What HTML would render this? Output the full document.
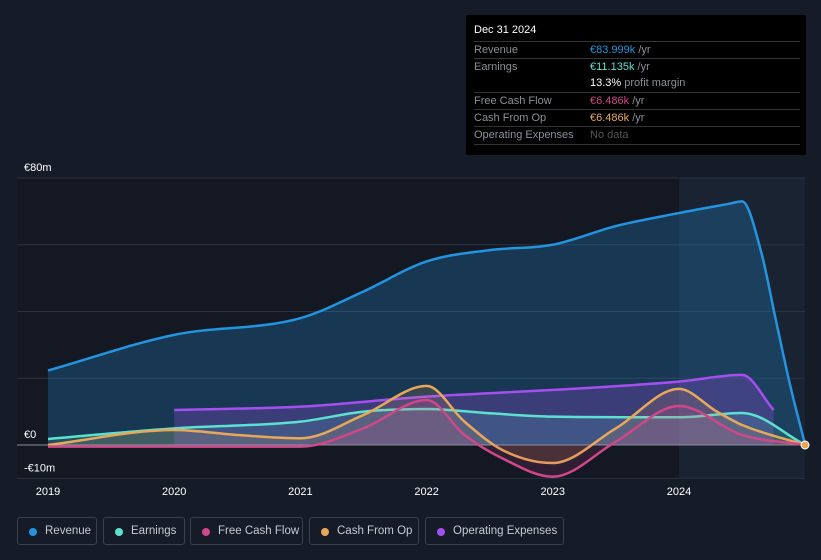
<!DOCTYPE html>
<html><head><meta charset="utf-8"><style>
body{margin:0;background:#151b27;font-family:"Liberation Sans",sans-serif;}
#wrap{position:relative;width:821px;height:560px;overflow:hidden;background:#151b27;}
.tt{position:absolute;left:466px;top:15px;width:340px;height:140px;background:#000;border-radius:2px;color:#8a8f98;font-size:11px;}
.tt .row{position:absolute;left:8px;right:6px;border-top:1px solid #333;height:17px;line-height:17px;}
.tt .v{position:absolute;left:116px;}
.leg{position:absolute;top:517px;height:28px;border:1px solid #3a404c;border-radius:3px;color:#c7cad0;font-size:11.5px;line-height:27px;box-sizing:border-box;padding-left:27px;white-space:nowrap;overflow:hidden;}
.leg i{position:absolute;left:11px;top:10px;width:8px;height:8px;border-radius:50%;}
</style></head><body>
<div id="wrap">
<svg id="chart" width="821" height="560" style="position:absolute;left:0;top:0"></svg>
<div class="tt">
<div style="position:absolute;left:8px;top:9px;color:#fff;font-size:11px">Dec 31 2024</div>
<div class="row" style="top:26px">Revenue<span class="v"><b style="color:#2394df;font-weight:normal">€83.999k</b> /yr</span></div>
<div class="row" style="top:43px">Earnings<span class="v"><b style="color:#5ce1d0;font-weight:normal">€11.135k</b> /yr</span></div>
<div class="row" style="top:60px;border-top:none"><span class="v"><b style="color:#fff;font-weight:normal">13.3%</b> profit margin</span></div>
<div class="row" style="top:77px">Free Cash Flow<span class="v"><b style="color:#d0478a;font-weight:normal">€6.486k</b> /yr</span></div>
<div class="row" style="top:94px">Cash From Op<span class="v"><b style="color:#e8a85a;font-weight:normal">€6.486k</b> /yr</span></div>
<div class="row" style="top:111px">Operating Expenses<span class="v" style="color:#555">No data</span></div>
<div class="row" style="top:129px;height:0"></div>
</div>
<div class="leg" style="left:17px;width:80px"><i style="background:#2394df"></i>Revenue</div>
<div class="leg" style="left:103px;width:82px"><i style="background:#5ce1d0"></i>Earnings</div>
<div class="leg" style="left:190px;width:113px"><i style="background:#d0478a"></i>Free Cash Flow</div>
<div class="leg" style="left:309px;width:110px"><i style="background:#e8a85a"></i>Cash From Op</div>
<div class="leg" style="left:425px;width:139px"><i style="background:#a64ff0"></i>Operating Expenses</div>
</div>
<script>
const yTicks=[80,60,40,20,0,-10];
const yLabels=["€80m","","","","€0","-€10m"];
const xTicks=[2019,2020,2021,2022,2023,2024];
const revX=[2019,2020,2021,2021.5,2022,2022.5,2023,2023.5,2024,2024.4,2024.5,2024.65,2024.77,2024.88,2025];
const revV=[22.3,33,38,46,55,58.4,60,65.6,69.5,72.3,73,58,37,18,0];
const earnX=[2019,2020,2021,2021.5,2022,2022.5,2023,2024,2024.5,2025];
const earnV=[1.8,5,7,10,10.8,9.5,8.5,8.3,9.6,0];
const fcfX=[2019,2020,2021,2021.5,2022,2022.3,2022.6,2023,2023.5,2024,2024.5,2025];
const fcfV=[-0.5,-0.5,-0.5,5,13.5,3,-4,-9.5,1,11.7,3,0];
const cfoX=[2019,2020,2020.5,2021,2021.5,2022,2022.3,2022.6,2023,2023.5,2024,2024.3,2024.5,2025];
const cfoV=[0,4.5,3,2,9,17.7,7,-1.5,-5.4,5,16.8,10,6,0];
const opxX=[2020,2021,2022,2023,2024,2024.5,2024.75];
const opxV=[10.5,11.5,14.5,16.5,19,21,10.5];
const X=t=>48+(t-2019)*126.2, Y=v=>445-v*3.3375;
const svg=document.getElementById('chart'),NS='http://www.w3.org/2000/svg';
function el(tag,a){const e=document.createElementNS(NS,tag);for(const k in a)e.setAttribute(k,a[k]);svg.appendChild(e);return e;}
function path(xs,vs){const p=xs.map((x,i)=>[X(x),Y(vs[i])]);const n=p.length;
const d=[],m=new Array(n);for(let i=0;i<n-1;i++)d.push((p[i+1][1]-p[i][1])/(p[i+1][0]-p[i][0]));
m[0]=d[0];m[n-1]=d[n-2];for(let i=1;i<n-1;i++){m[i]=(d[i-1]*d[i]<=0)?0:(d[i-1]+d[i])/2;}
for(let i=0;i<n-1;i++){if(d[i]===0){m[i]=0;m[i+1]=0;continue;}const a=m[i]/d[i],b=m[i+1]/d[i],s=a*a+b*b;if(s>9){const t=3/Math.sqrt(s);m[i]=t*a*d[i];m[i+1]=t*b*d[i];}}
let s='M'+p[0];for(let i=0;i<n-1;i++){const h=(p[i+1][0]-p[i][0])/3;s+='C'+(p[i][0]+h)+','+(p[i][1]+m[i]*h)+' '+(p[i+1][0]-h)+','+(p[i+1][1]-m[i+1]*h)+' '+p[i+1];}return s;}
let r=el('rect',{x:17,y:178,width:788,height:300,fill:'#131823'});

r=el('rect',{x:X(2024),y:178,width:805-X(2024),height:300,fill:'#1a2332'});

yTicks.forEach((v,i)=>{const l=el('line',{x1:17,x2:805,y1:Y(v),y2:Y(v),stroke:v==0?'#8a8f98':'#2c3240','stroke-width':1});

if(yLabels[i]){const t=el('text',{x:24,y:Y(v)-7,fill:'#fff','font-size':11});t.textContent=yLabels[i];
}});
xTicks.forEach(y=>{const t=el('text',{x:X(y),y:495,fill:'#fff','font-size':11,'text-anchor':'middle'});t.textContent=y;
});
const series=[[revX,revV,'#2394df',0.25,'revenue'],[opxX,opxV,'#a64ff0',0.25,'operating-expenses'],[earnX,earnV,'#5ce1d0',0.15,'earnings'],[cfoX,cfoV,'#e8a85a',0.15,'cash-from-op'],[fcfX,fcfV,'#d0478a',0.15,'free-cash-flow']];
series.forEach(([xs,vs,c,o,n])=>{const d=path(xs,vs);
const a=el('path',{d:d+'L'+X(xs[xs.length-1])+','+Y(0)+'L'+X(xs[0])+','+Y(0)+'Z',fill:c,'fill-opacity':o});

const l=el('path',{d:d,fill:'none',stroke:c,'stroke-width':2.5});
});
const dot=el('circle',{cx:805,cy:Y(0),r:4,fill:'#e8a85a',stroke:'#fff','stroke-width':1});

</script>
</body></html>
